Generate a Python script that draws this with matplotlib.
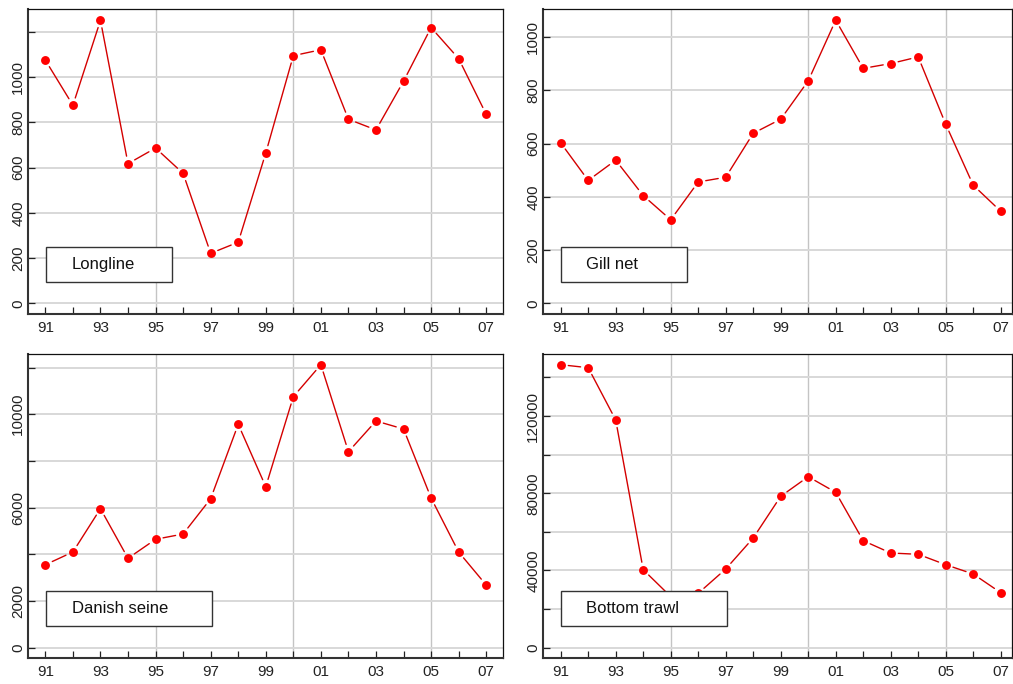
import matplotlib
matplotlib.use('Agg')
import matplotlib.pyplot as plt
from matplotlib.patches import Rectangle

plt.rcParams['font.family'] = ['Liberation Sans', 'DejaVu Sans']

years = list(range(1991, 2008))
year_labels = [f"{y % 100:02d}" if y % 2 == 1 else '' for y in years]

gears = ['Longline', 'Gill net', 'Danish seine', 'Bottom trawl']

longline = [1074, 875, 1250, 617, 686, 574, 221, 270, 664, 1094, 1120,
            813, 766, 981, 1218, 1081, 835]
gill_net = [603, 462, 538, 405, 314, 456, 474, 639, 692, 836, 1064,
            883, 901, 926, 673, 444, 346]
danish_seine = [3554, 4099, 5954, 3829, 4643, 4870, 6382, 9568, 6896, 10751,
                12121, 8395, 9710, 9367, 6412, 4099, 2685]
bottom_trawl = [146630, 145070, 117970, 40410, 26500, 28180, 40770, 56840,
                78440, 88600, 80510, 55440, 49060, 48390, 43000, 38180, 28500]

# y ticks (every gridline) and which of them carry a label
ticks_longline = [0, 200, 400, 600, 800, 1000, 1200]
labels_longline = [0, 200, 400, 600, 800, 1000]
ticks_gill = [0, 200, 400, 600, 800, 1000]
labels_gill = [0, 200, 400, 600, 800, 1000]
ticks_danish = [0, 2000, 4000, 6000, 8000, 10000, 12000]
labels_danish = [0, 2000, 6000, 10000]
ticks_trawl = [0, 20000, 40000, 60000, 80000, 100000, 120000, 140000]
labels_trawl = [0, 40000, 80000, 120000]

panels = [
    (longline, ticks_longline, labels_longline, (-47, 1300)),
    (gill_net, ticks_gill, labels_gill, (-40, 1106)),
    (danish_seine, ticks_danish, labels_danish, (-441, 12579)),
    (bottom_trawl, ticks_trawl, labels_trawl, (-5336, 152170)),
]

W, H = 1013, 684
fig = plt.figure(figsize=(W / 100, H / 100), dpi=100)

# axes boxes in pixels: left, top, right, bottom
boxes_px = [(28, 9, 503, 314), (543, 9, 1012, 314),
            (28, 354, 503, 658), (543, 354, 1012, 658)]
xlims = [(1990.37, 2007.61), (1990.356, 2007.41),
         (1990.37, 2007.61), (1990.356, 2007.41)]
label_box_w = [126, 126, 166, 166]

for i, (vals, ticks, labeled, ylim) in enumerate(panels):
    l, t, r, b = boxes_px[i]
    ax = fig.add_axes([l / W, (H - b) / H, (r - l) / W, (b - t) / H])
    ax.set_xlim(*xlims[i])
    ax.set_ylim(*ylim)

    for s in ['top', 'right']:
        ax.spines[s].set_color('#111111')
        ax.spines[s].set_linewidth(0.9)
    for s in ['left', 'bottom']:
        ax.spines[s].set_color('#333333')
        ax.spines[s].set_linewidth(1.5)

    ax.set_yticks(ticks)
    ax.set_yticklabels([str(v) if v in labeled else '' for v in ticks],
                       rotation=90, va='center')
    ax.set_xticks(years)
    ax.set_xticklabels(year_labels)
    ax.tick_params(direction='in', length=5, width=0.9, color='#222222',
                   labelsize=11, labelcolor='#222222')
    ax.tick_params(axis='y', pad=2)
    ax.tick_params(axis='x', pad=5)

    ax.yaxis.grid(True, color='#d8d8d8', lw=1.4, zorder=0)
    ax.set_axisbelow(True)
    for gx in [1995, 2000, 2005]:
        ax.axvline(gx, color='#c4c4c4', lw=1.0, zorder=0.5)

    # line segments with a small gap before each marker
    for j in range(len(years) - 1):
        ax.annotate('', xy=(years[j + 1], vals[j + 1]), xytext=(years[j], vals[j]),
                    arrowprops=dict(arrowstyle='-', color='#d40000', lw=1.0,
                                    shrinkA=5.5, shrinkB=5.5), zorder=3)
    ax.plot(years, vals, 'o', ms=6.4, color='#ff0000', mew=0, zorder=4)

    # label box
    bw = label_box_w[i] / (r - l)
    bx = 17.5 / (r - l)
    by0 = 32 / (b - t)
    bh = 35 / (b - t)
    ax.add_patch(Rectangle((bx, by0), bw, bh, transform=ax.transAxes,
                           facecolor='white', edgecolor='#333333', lw=1.0,
                           zorder=5))
    ax.text(bx + 26 / (r - l), by0 + bh / 2, gears[i], transform=ax.transAxes,
            fontsize=12, ha='left', va='center', color='#111111', zorder=6)

fig.savefig('out.png', dpi=100)
